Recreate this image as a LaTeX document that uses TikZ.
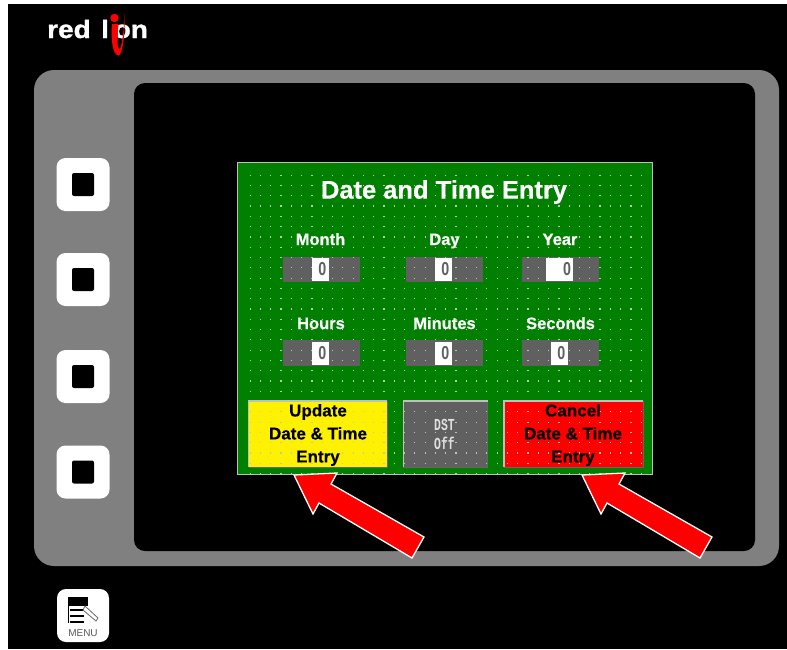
\documentclass[tikz,border=0pt]{standalone}
\usepackage{fontspec}
\setmainfont{Liberation Sans}
\setmonofont{Liberation Mono}
\definecolor{panelgreen}{HTML}{007F00}
\definecolor{bezel}{HTML}{808080}
\definecolor{fieldgray}{HTML}{606060}
\definecolor{dotc}{HTML}{B4CCB4}
\newcommand{\zeroval}{\hspace*{3.5pt}\scalebox{0.95}[1.25]{0}}
\tikzset{
  softkey/.style={fill=white,rounded corners=9pt,minimum width=53pt,minimum height=53pt,inner sep=0pt},
  softcore/.style={fill=black,rounded corners=2pt,minimum width=22pt,minimum height=23pt,inner sep=0pt},
  fieldbox/.style={fill=fieldgray,minimum width=77pt,minimum height=25.5pt,inner sep=0pt},
  valbox/.style={fill=white,minimum height=23pt,inner sep=0pt,text=fieldgray,font=\bfseries\fontsize{15}{15}\selectfont},
  lab/.style={text=white,font=\bfseries\addfontfeature{FakeBold=0.4}\fontsize{16.5}{16.5}\selectfont,inner sep=0pt,anchor=base},
  btntxt/.style={text=black,font=\bfseries\addfontfeature{FakeBold=0.4}\fontsize{17}{23}\selectfont,align=center,inner sep=0pt},
  softbtn/.style={minimum height=66pt,inner sep=0pt},
  bevlight/.style={draw=lightgray,line width=1.4pt},
  bevdark/.style={draw=black!60,line width=1.4pt},
  logotxt/.style={text=white,font=\bfseries\addfontfeature{FakeStretch=1.12,FakeBold=1.2}\fontsize{25}{25}\selectfont,anchor=base west,inner sep=0pt},
  arrowred/.style={fill=red,draw=white,line width=1.3pt,line join=miter}
}
\begin{document}
\begin{tikzpicture}[x=1pt,y=-1pt]
\useasboundingbox (0,0) rectangle (787,649);
\fill[white] (0,0) rectangle (787,649);
\fill[black] (8,4) rectangle (787,649);
% bezel
\fill[bezel,rounded corners=20pt] (34,70) rectangle (779,566);
\fill[black,rounded corners=11pt] (134,83) rectangle (755,551);
% logo
\node[logotxt] (logoa) at (47,38) {red};
\node[logotxt] (logob) at (101,38) {l};
\node[logotxt] (logoc) at (113.5,38) {on};
\fill[red] (114.5,18) circle (4.2pt);
\fill[red] (112,24) .. controls (110.5,40) and (113,55.5) .. (118.5,55.5)
  .. controls (122,55.5) and (126,35) .. (124,12)
  .. controls (124.5,35) and (121,50) .. (119,49)
  .. controls (117,48) and (117.5,38) .. (118.5,24) -- cycle;
% soft keys
\foreach \n/\y in {a/184.5,b/279.5,c/376.5,d/472}{
  \node[softkey] (key\n) at (83,\y) {};
  \node[softcore] (core\n) at (83,\y) {};
}
% panel
\node[draw=lightgray,line width=1pt,fill=panelgreen,minimum width=415pt,minimum height=311.5pt,inner sep=0pt,anchor=north west] (panel) at (237,162) {};
% fields
\node[fieldbox] (f1) at (321.5,269.5) {};
\node[fieldbox] (f2) at (444.5,269.5) {};
\node[fieldbox] (f3) at (560.5,269.5) {};
\node[fieldbox] (f4) at (321.5,353) {};
\node[fieldbox] (f5) at (444.5,353) {};
\node[fieldbox] (f6) at (560.5,353) {};
% buttons
\node[softbtn,fill=yellow,minimum width=138.5pt] (upd) at (318,434) {};
\node[softbtn,fill=fieldgray,minimum width=84pt] (dst) at (445.5,434) {};
\node[softbtn,fill=red,minimum width=139pt] (can) at (573.5,434) {};
\foreach \b in {upd,dst,can}{
  \draw[bevdark] (\b.north east) -- (\b.south east) -- (\b.south west);
  \draw[bevlight] (\b.south west) -- (\b.north west) -- (\b.north east);
}
% dots
\foreach \i in {0,...,38}{
  \foreach \j in {0,...,29}{
    \fill[dotc] ({249.6+\i*10.29},{174.6+\j*10.29}) rectangle ++(1.2,1.2);
  }
}
% value boxes
\node[valbox,minimum width=17pt] (v1) at (320.5,269.5) {\zeroval};
\node[valbox,minimum width=17pt] (v2) at (443.5,269.5) {\zeroval};
\node[valbox,minimum width=27pt] (v3) at (559.5,269.5) {\hspace*{15pt}\scalebox{0.95}[1.25]{0}};
\node[valbox,minimum width=17pt] (v4) at (320.5,353) {\zeroval};
\node[valbox,minimum width=17pt] (v5) at (443.5,353) {\zeroval};
\node[valbox,minimum width=17pt] (v6) at (559.5,353) {\zeroval};
% text
\node[text=white,font=\bfseries\addfontfeature{FakeBold=0.4}\fontsize{25.5}{25.5}\selectfont,inner sep=0pt] (title) at (444,192) {Date and Time Entry};
\node[lab] (l1) at (320.5,245) {Month};
\node[lab] (l2) at (444.5,245) {Day};
\node[lab] (l3) at (560,245) {Year};
\node[lab] (l4) at (321,329) {Hours};
\node[lab] (l5) at (444.5,329) {Minutes};
\node[lab] (l6) at (560.5,329) {Seconds};
\node[btntxt] (t1) at (318,435) {Update\\Date \& Time\\Entry};
\node[btntxt] (t2) at (573,435) {Cancel\\Date \& Time\\Entry};
\node[text=white!88!black,font=\ttfamily\bfseries\fontsize{12}{19}\selectfont,align=center,inner sep=0pt] (t3) at (444.5,434.5) {\scalebox{0.95}[1.4]{DST}\\\scalebox{0.95}[1.4]{Off}};
% arrows
\foreach \dx in {0,288}{
  \draw[arrowred] ({294+\dx},475) -- ({337+\dx},473) -- ({331+\dx},484) -- ({424+\dx},537) -- ({412+\dx},558) -- ({319+\dx},503) -- ({313+\dx},514) -- cycle;
}
% menu key
\node[softkey,minimum width=52pt,minimum height=53pt] (menu) at (83,615.5) {};
\node[text=black!65,font=\fontsize{10}{10}\selectfont,inner sep=0pt] (menut) at (83,633) {MENU};
\fill[black] (68,596.5) rectangle (87,606);
\draw[black,line width=1pt] (68,597) -- (68,623) (87,597) -- (87,606);
\draw[black,line width=1.2pt] (70,610) -- (84,610) (70,616) -- (84,616) (70,622) -- (84,622);
\fill[white,draw=black!60,line width=0.8pt] (85,606) -- (98,618) -- (96,621) -- (83,610) -- cycle;
\end{tikzpicture}
\end{document}
